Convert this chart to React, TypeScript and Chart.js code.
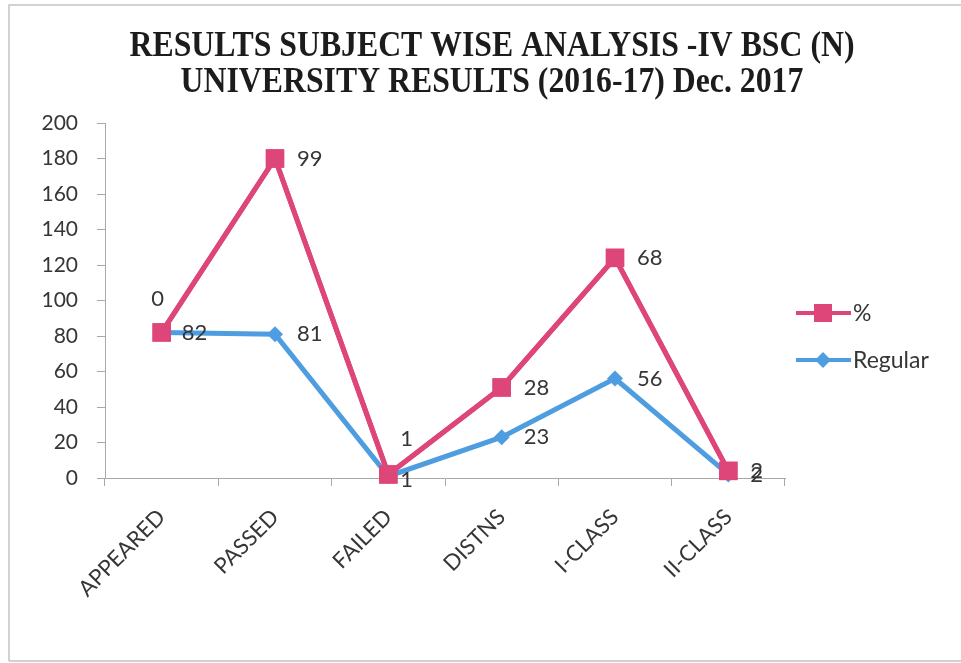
import React, { useEffect, useRef } from "react";
import { Chart, registerables } from "chart.js";

Chart.register(...registerables);

const categories = ["APPEARED", "PASSED", "FAILED", "DISTNS", "I-CLASS", "II-CLASS"];
const regularValues = [82, 81, 1, 23, 56, 2];
const percentValues = [0, 99, 1, 28, 68, 2];
const yTicks = [0, 20, 40, 60, 80, 100, 120, 140, 160, 180, 200];
const titleLines = ["RESULTS SUBJECT WISE ANALYSIS -IV BSC (N)", "UNIVERSITY RESULTS (2016-17) Dec. 2017"];

const PINK = "#DE4579";
const BLUE = "#4E9DE0";
const TEXT = "#363636";
const FONT = "Lato";

// label placement (style only): [dx, dy, align]
const percentLabelPos: [number, number, CanvasTextAlign][] = [
  [-4, -34, "center"], [22, 0, "left"], [12, -36, "left"], [22, 0, "left"], [22, 0, "left"], [22, 0, "left"],
];
const regularLabelPos: [number, number, CanvasTextAlign][] = [
  [20, 0, "left"], [22, 0, "left"], [12, 4, "left"], [22, 0, "left"], [22, 0, "left"], [22, 0, "left"],
];

export default function App() {
  const ref = useRef<HTMLCanvasElement | null>(null);

  useEffect(() => {
    document.body.style.margin = "0";
    const canvas = ref.current!;

    const frame = {
      id: "frame",
      beforeDraw(chart: any) {
        const c = chart.ctx;
        c.save();
        c.fillStyle = "#ffffff";
        c.fillRect(0, 0, chart.width, chart.height);
        c.strokeStyle = "#c4c4c4";
        c.lineWidth = 1.5;
        c.beginPath();
        c.moveTo(9, 661);
        c.lineTo(9, 5);
        c.lineTo(961, 5);
        c.moveTo(9, 661);
        c.lineTo(961, 661);
        c.stroke();
        c.restore();
      },
    };

    const title = {
      id: "condensedTitle",
      afterDraw(chart: any) {
        const c = chart.ctx;
        c.save();
        c.fillStyle = "#1c1c1c";
        c.font = `bold 35px "Liberation Serif"`;
        c.textAlign = "center";
        c.textBaseline = "middle";
        const targetWidth = 725;
        const w0 = c.measureText(titleLines[0]).width;
        const sx = targetWidth / w0;
        const cx = 492;
        const ys = [47, 83];
        titleLines.forEach((line, i) => {
          c.save();
          c.translate(cx, ys[i]);
          c.scale(sx, 1);
          c.fillText(line, 0, 0);
          c.restore();
        });
        c.restore();
      },
    };

    const redrawTop = {
      id: "redrawTop",
      afterDatasetsDraw(chart: any) {
        const meta = chart.getDatasetMeta(1);
        const c = chart.ctx;
        c.save();
        meta.controller.draw();
        c.restore();
      },
    };

    const labels = {
      id: "labels",
      afterDatasetsDraw(chart: any) {
        const c = chart.ctx;
        c.save();
        c.font = `22px ${FONT}`;
        c.fillStyle = TEXT;
        c.textBaseline = "middle";
        const draw = (dsIndex: number, values: number[], pos: [number, number, CanvasTextAlign][]) => {
          const meta = chart.getDatasetMeta(dsIndex);
          meta.data.forEach((pt: any, i: number) => {
            const [dx, dy, align] = pos[i];
            c.textAlign = align;
            c.fillText(String(values[i]), pt.x + dx, pt.y + dy);
          });
        };
        draw(0, regularValues, regularLabelPos);
        draw(1, percentValues, percentLabelPos);
        c.restore();
      },
    };

    const legend = {
      id: "customLegend",
      afterDraw(chart: any) {
        const c = chart.ctx;
        c.save();
        const items = [
          { label: "%", color: PINK, y: 313, style: "rect" },
          { label: "Regular", color: BLUE, y: 360, style: "rectRot" },
        ];
        items.forEach((it) => {
          c.strokeStyle = it.color;
          c.lineWidth = 4;
          c.beginPath();
          c.moveTo(796, it.y);
          c.lineTo(851, it.y);
          c.stroke();
          c.fillStyle = it.color;
          if (it.style === "rect") {
            c.fillRect(823 - 9, it.y - 9, 18, 18);
          } else {
            c.beginPath();
            c.moveTo(823, it.y - 8);
            c.lineTo(831, it.y);
            c.lineTo(823, it.y + 8);
            c.lineTo(815, it.y);
            c.closePath();
            c.fill();
          }
          c.fillStyle = TEXT;
          c.font = `23px ${FONT}`;
          c.textAlign = "left";
          c.textBaseline = "middle";
          c.fillText(it.label, 853, it.y + 1);
        });
        c.restore();
      },
    };

    const chart = new Chart(canvas, {
      type: "line",
      data: {
        labels: categories,
        datasets: [
          {
            label: "Regular",
            data: regularValues,
            borderColor: BLUE,
            backgroundColor: BLUE,
            borderWidth: 5,
            pointStyle: "rectRot",
            pointRadius: 8,
            pointBorderWidth: 0,
            tension: 0,
            clip: false as any,
          },
          {
            label: "%",
            data: percentValues,
            borderColor: PINK,
            backgroundColor: PINK,
            borderWidth: 5,
            pointStyle: "rect",
            pointRadius: 13,
            pointBorderWidth: 0,
            tension: 0,
            clip: false as any,
          },
        ],
      },
      options: {
        animation: false,
        responsive: false,
        layout: { padding: { left: 0, right: 176, top: 123, bottom: 0 } },
        plugins: {
          legend: { display: false },
          tooltip: { enabled: false },
          title: { display: false },
        },
        scales: {
          x: {
            stacked: true,
            offset: true,
            border: { display: true, color: "#a8a8a8", width: 1 },
            grid: { display: true, drawOnChartArea: false, drawTicks: true, tickLength: 8, offset: true, color: "#a8a8a8" },
            ticks: {
              color: TEXT,
              font: { family: FONT, size: 22 },
              maxRotation: 45,
              minRotation: 45,
              padding: 18,
              autoSkip: false,
            },
            afterFit(scale: any) {
              scale.height = 185;
            },
          },
          y: {
            stacked: true,
            min: 0,
            max: 200,
            border: { display: true, color: "#a8a8a8", width: 1 },
            grid: { display: true, drawOnChartArea: false, drawTicks: true, tickLength: 8, color: "#a8a8a8" },
            afterBuildTicks(scale: any) {
              scale.ticks = yTicks.map((v) => ({ value: v }));
            },
            ticks: {
              color: TEXT,
              font: { family: FONT, size: 21 },
              padding: 19,
            },
            afterFit(scale: any) {
              scale.width = 105;
            },
          },
        },
      },
      plugins: [frame, redrawTop, labels, legend, title],
    });

    return () => chart.destroy();
  }, []);

  return (
    <div style={{ width: 961, height: 663 }}>
      <canvas ref={ref} width={961} height={663} style={{ display: "block" }} />
    </div>
  );
}
